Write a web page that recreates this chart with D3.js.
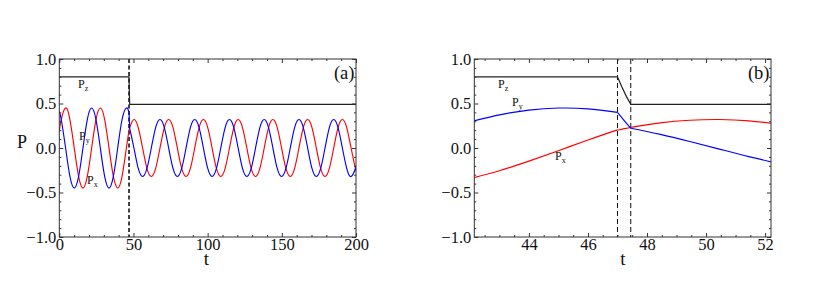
<!DOCTYPE html>
<html>
<head>
<meta charset="utf-8">
<script src="https://cdn.jsdelivr.net/npm/d3@7"></script>
<style>
body { margin: 0; background: #fff; }
svg text { font-family: "Liberation Serif", "Tinos", "Times New Roman", serif; fill: #111; }
</style>
</head>
<body>
<div id="chart"></div>
<script>
// ---- panel (a): whole run, values read at peaks / half-peaks / zero crossings
var tBefore  = [0, 1.31, 4.24, 7.16, 10.09, 13.02, 15.95, 18.87, 21.80, 24.73, 27.66, 30.58, 33.51, 36.44, 39.37, 42.29, 45.22, 47];
var pyBefore = [0.41, 0.32, 0, -0.32, -0.45, -0.32, 0, 0.32, 0.45, 0.32, 0, -0.32, -0.45, -0.32, 0, 0.32, 0.45, 0.40];
var pxBefore = [0.19, 0.32, 0.45, 0.32, 0, -0.32, -0.45, -0.32, 0, 0.32, 0.45, 0.32, 0, -0.32, -0.45, -0.32, 0, 0.20];

var tAfter = [47.45, 50.31, 53.23, 56.16, 59.09, 62.02, 64.94, 67.87, 70.80, 73.73, 76.65, 79.58, 82.51, 85.44,
  88.36, 91.29, 94.22, 97.15, 100.07, 103.00, 105.93, 108.86, 111.78, 114.71, 117.64, 120.57, 123.49, 126.42,
  129.35, 132.28, 135.20, 138.13, 141.06, 143.99, 146.91, 149.84, 152.77, 155.70, 158.62, 161.55, 164.48,
  167.41, 170.33, 173.26, 176.19, 179.12, 182.04, 184.97, 187.90, 190.83, 193.75, 196.68, 199.61, 200];
var pyAfter = [0.22,
  0, -0.23, -0.32, -0.23, 0, 0.23, 0.32, 0.23,
  0, -0.23, -0.32, -0.23, 0, 0.23, 0.32, 0.23,
  0, -0.23, -0.32, -0.23, 0, 0.23, 0.32, 0.23,
  0, -0.23, -0.32, -0.23, 0, 0.23, 0.32, 0.23,
  0, -0.23, -0.32, -0.23, 0, 0.23, 0.32, 0.23,
  0, -0.23, -0.32, -0.23, 0, 0.23, 0.32, 0.23,
  0, -0.23, -0.32, -0.23,
  -0.20];
var pxAfter = [0.23,
  0.32, 0.23, 0, -0.23, -0.32, -0.23, 0, 0.23,
  0.32, 0.23, 0, -0.23, -0.32, -0.23, 0, 0.23,
  0.32, 0.23, 0, -0.23, -0.32, -0.23, 0, 0.23,
  0.32, 0.23, 0, -0.23, -0.32, -0.23, 0, 0.23,
  0.32, 0.23, 0, -0.23, -0.32, -0.23, 0, 0.23,
  0.32, 0.23, 0, -0.23, -0.32, -0.23, 0, 0.23,
  0.32, 0.23, 0, -0.23,
  -0.25];

// the switch between t=47 and t=47.45 (both panels)
var tJump  = [47, 47.2, 47.45];
var pxJump = [0.20, 0.215, 0.23];
var pyJump = [0.40, 0.32, 0.22];
var tSwitch = [47, 47.45];

var pzT = [0, 47, 47.15, 47.3, 47.45, 200];
var pzV = [0.8, 0.8, 0.685, 0.58, 0.49, 0.49];

// ---- panel (b): zoom around the switch
var tB  = [42, 43, 44, 45, 46, 47];
var pyB = [0.292, 0.372, 0.426, 0.449, 0.440, 0.400];
var pxB = [-0.344, -0.255, -0.147, -0.030, 0.090, 0.204];
var tA  = [47.45, 48.45, 49.45, 50.45, 51.45, 52.45];
var pyA = [0.222, 0.153, 0.073, -0.012, -0.097, -0.174];
var pxA = [0.231, 0.282, 0.312, 0.320, 0.305, 0.268];

var xTicksA = [0, 50, 100, 150, 200];
var xTicksB = [44, 46, 48, 50, 52];
var yTicks = [-1, -0.5, 0, 0.5, 1];

var W = 830, H = 297;
var yTop = 59, yBot = 237;

var svg = d3.select("#chart").append("svg")
    .attr("width", W)
    .attr("height", H);

function pts(t, v) {
    return t.map(function (d, i) { return [d, v[i]]; });
}

function panel(o) {
    var x = d3.scaleLinear().domain(o.dom).range([o.x0, o.x1]);
    var y = d3.scaleLinear().domain([-1, 1]).range([yBot, yTop]);
    var g = svg.append("g");

    g.append("clipPath").attr("id", o.id)
        .append("rect")
        .attr("x", o.x0).attr("y", yTop)
        .attr("width", o.x1 - o.x0).attr("height", yBot - yTop);

    var plot = g.append("g").attr("clip-path", "url(#" + o.id + ")");

    var smooth = d3.line().x(function (d) { return x(d[0]); }).y(function (d) { return y(d[1]); }).curve(d3.curveNatural);
    var straight = d3.line().x(function (d) { return x(d[0]); }).y(function (d) { return y(d[1]); });

    // dashed switch lines
    o.dashes.forEach(function (t) {
        plot.append("line")
            .attr("x1", x(t)).attr("x2", x(t))
            .attr("y1", yTop).attr("y2", yBot)
            .attr("stroke", "#111")
            .attr("stroke-width", o.dashW)
            .attr("stroke-dasharray", o.dashArr);
    });

    plot.append("path").attr("d", straight(pts(pzT, pzV)))
        .attr("fill", "none").attr("stroke", "#222").attr("stroke-width", 1.2);

    o.series.forEach(function (s) {
        s.parts.forEach(function (p) {
            plot.append("path")
                .attr("d", (p.lin ? straight : smooth)(pts(p.t, p.v)))
                .attr("fill", "none")
                .attr("stroke", s.color)
                .attr("stroke-width", 1.15);
        });
    });

    // axes, ticks pointing in on all four sides
    var yMinor = d3.range(-1, 1.001, 0.1).filter(function (d) { return Math.abs(d * 2 - Math.round(d * 2)) > 1e-6; });

    function addAxis(axis, tr, major, minor, labels, fmt, pad) {
        var a = g.append("g").attr("transform", tr)
            .call(axis(major).tickSizeInner(-4).tickSizeOuter(0).tickPadding(pad || 3)
                .tickFormat(labels ? fmt : ""));
        a.attr("font-family", null).attr("font-size", null);
        a.select(".domain").remove();
        a.selectAll("line").attr("stroke", "#333");
        a.selectAll("text").attr("font-size", 16.5).attr("fill", "#111");
        var m = g.append("g").attr("transform", tr)
            .call(axis(minor).tickSizeInner(-2).tickSizeOuter(0).tickFormat(""));
        m.select(".domain").remove();
        m.selectAll("line").attr("stroke", "#333");
        return a;
    }

    var fx = d3.format("d"), fy = d3.format(".1f");
    function bx(v) { return d3.axisBottom(x).tickValues(v); }
    function tx(v) { return d3.axisTop(x).tickValues(v); }
    function ly(v) { return d3.axisLeft(y).tickValues(v); }
    function ry(v) { return d3.axisRight(y).tickValues(v); }

    addAxis(bx, "translate(0," + yBot + ")", o.xTicks, o.xMinor, true, fx, 1.5);
    addAxis(tx, "translate(0," + yTop + ")", o.xTicks, o.xMinor, false);
    addAxis(ly, "translate(" + o.x0 + ",0)", yTicks, yMinor, true, fy, 3);
    addAxis(ry, "translate(" + o.x1 + ",0)", yTicks, yMinor, false);

    g.append("rect")
        .attr("x", o.x0).attr("y", yTop)
        .attr("width", o.x1 - o.x0).attr("height", yBot - yTop)
        .attr("fill", "none").attr("stroke", "#333").attr("stroke-width", 1);

    g.append("text")
        .attr("x", o.tX).attr("y", 265)
        .attr("text-anchor", "middle")
        .attr("font-size", 19)
        .text("t");

    g.append("text")
        .attr("x", o.x1 - 1.5).attr("y", 79)
        .attr("text-anchor", "end")
        .attr("font-size", 18.5)
        .text(o.tag);

    o.labels.forEach(function (l) {
        var t = g.append("text").attr("x", l.x).attr("y", l.y).attr("font-size", 12);
        t.append("tspan").text("P");
        t.append("tspan").attr("dy", 3).attr("font-size", 8).text(l.sub);
    });
}

panel({
    id: "clipA", dom: [0, 200], x0: 59.3, x1: 356, tX: 206.5,
    xTicks: xTicksA,
    xMinor: d3.range(10, 200, 10).filter(function (d) { return d % 50 !== 0; }),
    dashes: [47], dashW: 1.6, dashArr: "4,2.5",
    tag: "(a)",
    series: [
        { color: "#ff0000", parts: [{ t: tBefore, v: pxBefore }, { t: tJump, v: pxJump, lin: true }, { t: tAfter, v: pxAfter }] },
        { color: "#0000ff", parts: [{ t: tBefore, v: pyBefore }, { t: tJump, v: pyJump, lin: true }, { t: tAfter, v: pyAfter }] }
    ],
    labels: [{ x: 78, y: 88, sub: "z" }, { x: 79, y: 139.5, sub: "y" }, { x: 87, y: 183.5, sub: "x" }]
});

panel({
    id: "clipB", dom: [42.15, 52.2], x0: 474.3, x1: 771, tX: 623,
    xTicks: xTicksB,
    xMinor: d3.range(42.5, 52.2, 0.5).filter(function (d) { return d % 2 !== 0; }),
    dashes: tSwitch, dashW: 1, dashArr: "5,3",
    tag: "(b)",
    series: [
        { color: "#ff0000", parts: [{ t: tB, v: pxB }, { t: tJump, v: pxJump, lin: true }, { t: tA, v: pxA }] },
        { color: "#0000ff", parts: [{ t: tB, v: pyB }, { t: tJump, v: pyJump, lin: true }, { t: tA, v: pyA }] }
    ],
    labels: [{ x: 498, y: 88, sub: "z" }, { x: 512, y: 105.5, sub: "y" }, { x: 555, y: 160, sub: "x" }]
});

svg.append("text")
    .attr("x", 17).attr("y", 148)
    .attr("font-size", 18)
    .text("P");
</script>
</body>
</html>
